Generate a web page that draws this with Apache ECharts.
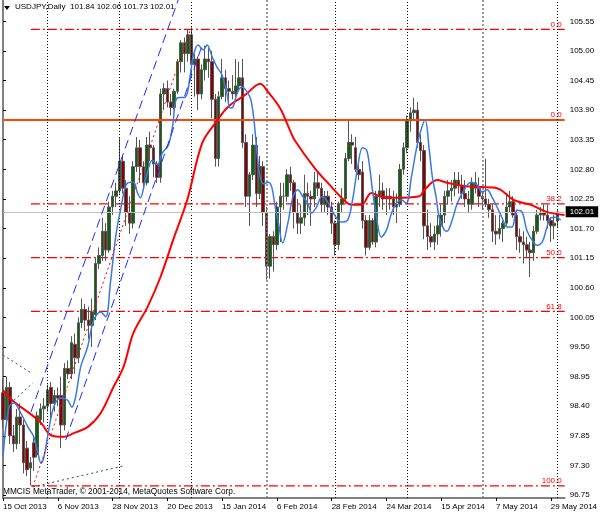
<!DOCTYPE html>
<html><head><meta charset="utf-8">
<script src="https://cdn.jsdelivr.net/npm/echarts@6/dist/echarts.min.js"></script>
<style>html,body{margin:0;padding:0;background:#fff}#c{width:600px;height:514px}</style>
</head><body><div id="c"></div>
<script>
// ---- data (bar index 0 = 15 Oct 2013, daily bars, last = 2 Jun 2014) ----
const opens = [98.65,98.15,98.75,97.85,97.70,98.20,98.05,97.62,97.25,97.72,97.50,98.15,98.35,98.40,98.75,98.45,98.60,98.60,98.05,99.10,99.00,99.55,99.30,99.95,100.20,100.00,99.90,100.10,101.05,101.20,101.65,101.30,102.10,102.30,102.40,102.95,102.45,102.00,101.80,102.85,103.20,102.85,102.55,103.25,103.20,102.90,102.65,104.20,104.30,104.05,103.95,104.25,104.80,105.15,104.95,105.30,104.75,104.85,104.20,104.65,104.85,104.80,104.10,103.00,104.15,104.50,104.30,104.25,104.20,104.35,104.50,103.30,102.30,102.70,103.25,102.35,102.85,102.00,101.00,101.55,101.40,102.10,102.30,102.30,102.70,102.55,102.00,101.80,101.90,102.35,102.30,102.25,102.55,102.45,102.15,102.30,102.10,101.80,101.40,102.15,102.25,103.00,103.30,103.20,102.80,102.75,101.85,101.35,101.85,101.45,102.30,102.40,102.25,102.30,102.25,102.10,102.15,102.80,103.20,103.70,103.85,103.90,103.30,103.15,101.75,101.55,101.45,101.60,101.75,101.95,102.30,102.40,102.45,102.60,102.50,102.35,102.25,102.15,102.55,102.45,102.30,102.25,102.15,102.05,101.65,101.60,101.70,101.80,102.10,102.20,101.95,101.55,101.45,101.40,101.30,101.25,101.65,101.95,102.00,101.95,101.85,101.75,101.84];
const highs = [98.90,98.95,98.85,98.05,98.35,98.45,98.15,97.75,97.45,97.85,98.30,98.45,98.55,98.80,98.85,98.70,98.75,98.95,99.20,99.25,99.70,99.75,100.05,100.40,100.30,100.25,100.40,101.15,101.35,101.90,101.80,102.20,102.40,102.55,103.38,103.05,102.60,102.30,102.95,103.40,103.35,102.95,103.40,103.50,103.25,102.95,104.30,104.40,104.45,104.20,104.30,104.85,105.20,105.25,105.40,105.44,104.95,104.90,104.75,105.10,105.05,105.00,104.20,104.25,104.85,104.65,104.45,104.55,104.85,104.80,104.85,103.45,102.75,103.45,103.40,103.05,102.95,102.10,101.60,101.65,102.20,102.55,102.55,102.80,102.85,102.60,102.25,102.15,102.70,102.55,102.40,102.75,102.75,102.55,102.40,102.40,102.20,101.85,102.20,102.45,103.10,103.72,103.45,103.40,102.95,102.95,101.95,101.95,101.90,102.40,102.70,102.55,102.45,102.45,102.40,102.35,102.90,103.30,103.80,103.95,104.13,104.05,103.45,103.25,102.05,101.80,101.75,101.95,102.15,102.40,102.60,102.60,102.75,102.75,102.70,102.60,102.40,102.65,102.75,102.65,102.40,103.00,102.25,102.15,101.95,101.95,101.85,102.35,102.40,102.30,102.05,101.70,101.65,101.55,101.45,101.75,102.05,102.10,102.15,102.15,101.90,101.95,102.06];
const lows = [98.00,98.05,97.70,97.55,97.60,97.70,97.15,97.10,96.93,97.20,97.45,98.05,98.10,98.30,98.15,98.30,98.40,97.62,97.95,98.90,98.90,99.00,99.20,99.85,99.80,99.65,99.50,100.00,100.95,101.10,101.10,101.25,101.95,102.10,102.35,102.35,101.75,101.60,101.70,102.75,102.55,102.45,102.50,102.95,102.65,102.55,102.55,103.90,103.95,103.80,103.90,104.20,104.60,104.60,104.80,104.55,104.15,103.90,104.10,104.45,104.50,103.75,102.85,102.85,104.10,104.05,104.00,104.10,104.10,104.25,103.20,102.10,101.75,102.60,102.10,102.25,101.75,100.75,100.77,100.90,101.30,101.45,102.05,102.20,102.40,101.70,101.60,101.60,101.75,101.95,101.75,102.10,102.30,102.00,102.00,101.95,101.60,101.20,101.30,102.00,102.20,102.95,102.90,102.75,102.60,101.70,101.20,101.30,101.40,101.35,102.10,102.05,101.95,102.05,101.95,101.80,102.10,102.70,103.10,103.50,103.70,103.20,102.95,101.50,101.30,101.35,101.30,101.40,101.55,101.80,102.15,102.20,102.30,102.35,102.25,102.10,102.00,102.05,102.35,102.10,102.05,102.10,101.90,101.45,101.40,101.50,101.45,101.75,102.00,101.90,101.30,101.25,101.05,101.15,100.80,101.10,101.60,101.85,101.85,101.70,101.45,101.50,101.73];
const closes = [98.15,98.75,97.85,97.70,98.20,98.05,97.35,97.22,97.35,97.45,98.22,98.35,98.40,98.70,98.45,98.60,98.55,98.05,99.10,99.00,99.58,99.30,99.95,100.20,100.00,99.90,100.15,101.05,101.20,101.65,101.30,102.10,102.30,102.40,102.95,102.45,102.00,101.80,102.85,103.20,102.85,102.55,103.25,103.20,102.90,102.65,104.20,104.30,104.05,103.95,104.25,104.80,105.15,104.95,105.30,104.75,104.85,104.20,104.65,104.85,104.80,104.10,103.00,104.15,104.50,104.30,104.25,104.20,104.35,104.50,103.30,102.30,102.70,103.25,102.35,102.85,102.00,101.00,101.55,101.40,102.10,102.30,102.30,102.70,102.55,102.00,101.80,101.90,102.35,102.30,102.25,102.55,102.45,102.15,102.30,102.10,101.80,101.40,102.15,102.25,103.00,103.30,103.25,102.80,102.70,101.85,101.35,101.85,101.45,102.30,102.40,102.25,102.30,102.25,102.10,102.15,102.80,103.20,103.70,103.85,103.90,103.30,103.15,101.75,101.55,101.45,101.60,101.75,101.95,102.30,102.40,102.45,102.60,102.50,102.35,102.25,102.15,102.55,102.45,102.30,102.25,102.15,102.05,101.65,101.60,101.70,101.80,102.10,102.20,101.95,101.55,101.45,101.40,101.30,101.25,101.65,101.95,102.00,101.95,101.85,101.75,101.80,102.01];

// fast (blue) and slow (red) averages: [bar index, price]
const blueLine = [[0,97.46],[1.75,98.38],[3.2,98.46],[5.2,98.27],[7.3,98.01],[9,97.83],[10.2,97.53],[11.1,97.34],[11.9,97.44],[13.1,97.86],[14.8,98.38],[16.9,98.55],[18.9,98.51],[20.1,98.38],[21.2,98.57],[22.7,99.13],[24.7,99.5],[26.5,100.0],[28.5,100.15],[30,100.06],[31.4,100.71],[32.9,101.54],[34.3,102.04],[36.4,102.55],[38.1,102.56],[39.3,102.36],[40.1,102.27],[41.6,102.6],[43.6,102.97],[45.1,102.88],[46.5,103.1],[48.3,103.25],[49.5,103.59],[50.9,104.13],[53.2,104.14],[54.7,104.55],[55.6,104.92],[57,105.11],[58.5,105.02],[59.6,105.11],[61.1,104.89],[62.5,104.7],[64,104.55],[65.5,104.18],[66.3,103.94],[67.2,103.96],[68.4,104.22],[69.8,104.33],[71.3,104.24],[72.4,104.09],[73.3,103.72],[74.2,103.1],[75.1,102.66],[76.2,102.53],[77.4,102.56],[78.5,102.47],[79.4,102.14],[80.3,101.86],[81.7,101.43],[83.2,101.8],[84.7,102.29],[86.1,102.42],[87.6,102.29],[89,102.17],[90.2,101.99],[91.6,102.1],[93.1,102.29],[94.5,102.23],[96,102.04],[98.9,101.82],[100.7,101.86],[102.1,102.23],[103.6,102.84],[105,103.2],[106.2,103.16],[107.1,102.84],[107.9,102.42],[109.1,101.91],[110.5,101.54],[112,101.67],[113.5,101.99],[114.9,102.17],[116.4,102.23],[117.8,102.17],[119.3,102.66],[120.7,103.16],[121.9,103.49],[123.3,103.72],[124.5,103.16],[125.4,102.66],[126.5,102.29],[127.4,101.91],[128.9,101.67],[129.7,101.65],[131.2,101.86],[132.7,102.17],[134.7,102.42],[136.7,102.56],[138.5,102.51],[139.9,102.38],[141.4,102.42],[142.8,102.29],[144.3,102.1],[145.7,101.91],[147.2,101.73],[148.7,101.73],[150.1,102.04],[151.6,102.01],[153,101.67],[154.5,101.49],[156,101.39],[157.5,101.45],[158.9,101.73],[160,101.9],[161.5,101.91],[162.9,101.86]];
const redLine = [[0,98.7],[3.2,98.48],[7.3,98.29],[11.1,98.09],[14,97.86],[17.7,97.83],[20.7,97.9],[24.7,98.01],[28.5,98.27],[32.3,98.76],[35.2,99.13],[38.1,99.76],[42.2,100.24],[46,100.8],[49.7,101.49],[53.8,102.23],[58.2,103.29],[62,103.66],[65.7,103.96],[70.7,104.18],[75.1,104.39],[77.4,104.24],[80.9,103.94],[83.8,103.53],[85.2,103.34],[91.1,102.82],[96,102.47],[98.9,102.27],[101.8,102.14],[104.7,102.14],[107.6,102.36],[110.5,102.29],[114.3,102.27],[121.6,102.3],[123.1,102.42],[126.8,102.6],[129.7,102.55],[134.7,102.49],[139.6,102.47],[144.3,102.45],[149.2,102.23],[154.2,102.14],[158.8,102.01],[164,101.95]];

// drawn objects: [bar index, price] end points
const channelUpper = [[8.15,98.29],[51.2,105.95]];
const channelLower = [[18.3,97.77],[58.2,105.11]];
const channelMid = [[8.7,96.90],[54.7,105.39]];
const fanA = [[0,99.35],[8.15,99.02]];
const fanB = [[3.2,98.51],[8.7,98.83]];
const fanC = [[8.7,96.90],[35.2,97.29]];
const fibStart = 8.15;
const fibPrices = [105.40,102.16,101.16,100.16,96.92];
const fibLabels = ['0.0','38.2','50.0','61.8','100.0'];
const levelLine = 103.716;
const lastPrice = 102.01;
const monthSepBlack = [13,34,55,97,118,162];
const monthSepGray = [77,140];
const xTickIndex = [0,16,32,48,64,80,96,112,128,144,160];
const xTickLabels = ['15 Oct 2013','6 Nov 2013','28 Nov 2013','20 Dec 2013','15 Jan 2014','6 Feb 2014','28 Feb 2014','24 Mar 2014','15 Apr 2014','7 May 2014','29 May 2014'];
const yTicks = [96.75,97.30,97.85,98.40,98.95,99.50,100.05,100.60,101.15,101.70,102.25,102.80,103.35,103.90,104.45,105.00,105.55];

const FONT = 'Liberation Sans';
const XMAX = 164.07;
const chart = echarts.init(document.getElementById('c'), null, {renderer:'canvas'});
const candles = opens.map((o,i)=>[i,o,closes[i],lows[i],highs[i]]);
function seg(name, pts, color, type, width, z, label){
  const s = {name, type:'line', data:pts, symbol:'none', silent:true, z:z||5, animation:false,
    color, itemStyle:{color}, lineStyle:{color, type, width}};
  if (label) s.endLabel = {show:true, formatter:label, color:'#ff0000', fontFamily:FONT, fontSize:8,
    align:'right', verticalAlign:'bottom', distance:0, offset:[-3,-1]};
  return s;
}
const fibSeries = fibPrices.map((p,k)=>seg('fib'+k, [[fibStart,p],[XMAX,p]], '#ff0000', [9,3,2,3], 1.2, 2, fibLabels[k]));
const opt = {
  animation:false,
  grid:{left:2, right:34, top:0, bottom:16},
  xAxis:{type:'value', min:0, max:XMAX,
    axisLine:{show:true, lineStyle:{color:'#808080', width:2}},
    axisTick:{show:true, customValues:xTickIndex, length:3, lineStyle:{color:'#000'}},
    axisLabel:{customValues:xTickIndex, formatter:v=>xTickLabels[xTickIndex.indexOf(Math.round(v))]||'',
      align:'left', margin:5, fontFamily:FONT, fontSize:8, color:'#000'},
    splitLine:{show:false}},
  yAxis:[{type:'value', position:'right', min:96.694, max:105.946,
    axisLine:{show:true, lineStyle:{color:'#808080', width:2}},
    axisTick:{show:true, customValues:yTicks, length:3, lineStyle:{color:'#000'}},
    axisLabel:{customValues:yTicks, formatter:v=>v.toFixed(2), margin:5, fontFamily:FONT, fontSize:8, color:'#000'},
    splitLine:{show:false}},
    {type:'value', position:'left', min:96.694, max:105.946,
    axisLine:{show:true, lineStyle:{color:'#808080', width:1.5}}, axisTick:{show:false}, axisLabel:{show:false}, splitLine:{show:false}}],
  series:[
    {type:'line', data:[], silent:true, z:1, markLine:{symbol:['none','none'], silent:true, animation:false,
      label:{show:false},
      data:[...monthSepBlack.map(x=>({xAxis:x, lineStyle:{color:'#000', type:[1,2], width:1}})),
            ...monthSepGray.map(x=>({xAxis:x, lineStyle:{color:'#777', type:[2,2], width:1.5}}))]}},
    ...fibSeries,
    {type:'line', data:[], silent:true, z:2, markLine:{symbol:['none','none'], silent:true, animation:false,
      data:[{yAxis:lastPrice, lineStyle:{color:'#c0c0c0', type:'solid', width:1},
        label:{show:true, position:'end', formatter:lastPrice.toFixed(2), distance:1, backgroundColor:'#000', color:'#fff',
          padding:[2,4,1,4], fontFamily:FONT, fontSize:8}}]}},
    {type:'candlestick', data:candles, encode:{x:0, y:[1,2,3,4]}, barWidth:3, z:3, silent:true,
      itemStyle:{color:'#0a640a', color0:'#8b0000', borderColor:'#555', borderColor0:'#555', borderWidth:1}},
    seg('level', [[0,levelLine],[XMAX,levelLine]], '#ff4500', 'solid', 2, 4, '0.0'),
    seg('fanA', fanA, '#2f4f4f', [2,3], 1, 5),
    seg('fanB', fanB, '#2f4f4f', [2,3], 1, 5),
    seg('fanC', fanC, '#2f4f4f', [2,3], 1, 5),
    {type:'line', data:redLine, symbol:'none', smooth:0.35, silent:true, z:6, lineStyle:{color:'#ff0000', width:2}},
    {type:'line', data:blueLine, symbol:'none', smooth:0.35, silent:true, z:7, lineStyle:{color:'#3a78e4', width:1.5}},
    seg('chU', channelUpper, '#1a2cff', [9,5], 1, 8),
    seg('chL', channelLower, '#1a2cff', [9,5], 1, 8),
    seg('chM', channelMid, '#ff0000', [2,3], 1, 8)
  ],
  graphic:[
    {type:'polygon', shape:{points:[[4,6],[10,6],[7,10]]}, style:{fill:'#000'}},
    {type:'text', left:15, top:3, style:{text:'USDJPY,Daily  101.84 102.06 101.73 102.01', fill:'#000', font:'8px "Liberation Sans"'}},
    {type:'text', left:3, top:488, style:{text:'MMCIS MetaTrader, © 2001-2014, MetaQuotes Software Corp.', fill:'#000', font:'8.3px "Liberation Sans"'}}
  ]
};
chart.setOption(opt);
</script></body></html>
